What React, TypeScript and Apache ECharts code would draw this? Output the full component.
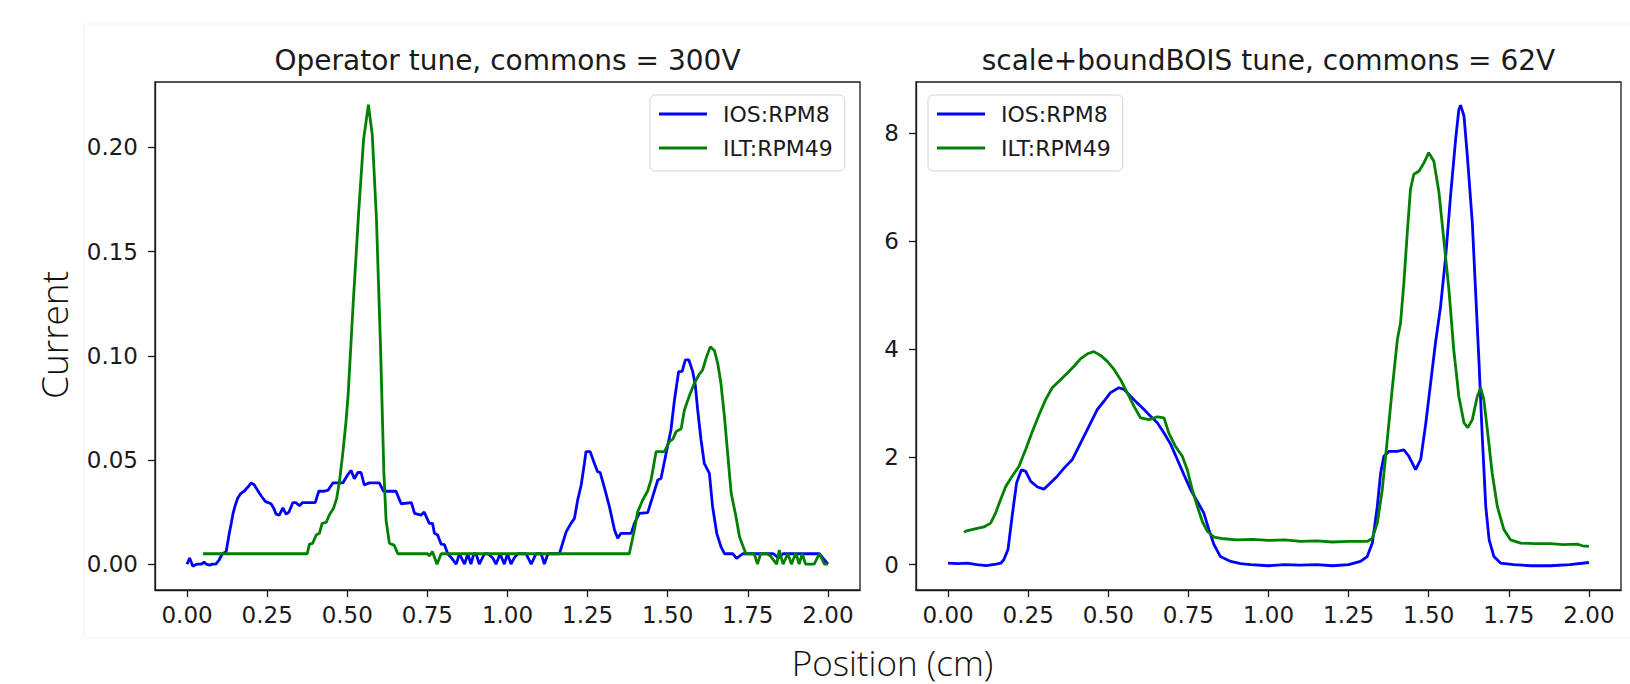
import React, { useEffect, useRef } from "react";
import * as echarts from "echarts";

// ---------- data ----------
const xTicks = [0, 0.25, 0.5, 0.75, 1.0, 1.25, 1.5, 1.75, 2.0];
const yTicksLeft = [0, 0.05, 0.1, 0.15, 0.2];
const yTicksRight = [0, 2, 4, 6, 8];
const seriesNames = ["IOS:RPM8", "ILT:RPM49"];
const titles = ["Operator tune, commons = 300V", "scale+boundBOIS tune, commons = 62V"];

// Operator tune, IOS:RPM8
const opIos: [number, number][] = [
  [0.0, 0.0], [0.008, 0.003], [0.018, -0.001], [0.03, 0.0], [0.045, 0.0], [0.053, 0.001],
  [0.06, 0.0], [0.07, -0.0005], [0.08, 0.0], [0.09, 0.0], [0.1, 0.002], [0.11, 0.005],
  [0.122, 0.006], [0.132, 0.015], [0.138, 0.0196], [0.143, 0.024], [0.15, 0.028],
  [0.158, 0.0316], [0.168, 0.034], [0.178, 0.035], [0.19, 0.037], [0.2, 0.039],
  [0.21, 0.038], [0.218, 0.036], [0.226, 0.034], [0.235, 0.032], [0.245, 0.03],
  [0.262, 0.029], [0.27, 0.027], [0.278, 0.024], [0.288, 0.0235], [0.299, 0.027],
  [0.309, 0.024], [0.318, 0.025], [0.33, 0.0295], [0.34, 0.0295], [0.351, 0.028],
  [0.36, 0.0295], [0.4, 0.0295], [0.411, 0.035], [0.428, 0.035], [0.44, 0.0355],
  [0.455, 0.039], [0.486, 0.039], [0.501, 0.0428], [0.512, 0.045], [0.522, 0.041],
  [0.533, 0.044], [0.543, 0.044], [0.553, 0.038], [0.569, 0.039], [0.6, 0.039],
  [0.613, 0.035], [0.652, 0.035], [0.668, 0.029], [0.7, 0.0295], [0.71, 0.0244],
  [0.73, 0.0235], [0.74, 0.025], [0.756, 0.0196], [0.766, 0.0196], [0.772, 0.0148],
  [0.782, 0.014], [0.793, 0.0096], [0.803, 0.0094], [0.8135, 0.005], [0.825, 0.003],
  [0.84, 0.0], [0.85, 0.005], [0.866, 0.0], [0.876, 0.005], [0.886, 0.0], [0.895, 0.005],
  [0.902, 0.005], [0.912, 0.0], [0.928, 0.005], [0.94, 0.005], [0.954, 0.003],
  [0.964, 0.0], [0.977, 0.005], [0.99, 0.0], [1.0, 0.005], [1.011, 0.0], [1.021, 0.003],
  [1.032, 0.005], [1.045, 0.005], [1.058, 0.005], [1.074, 0.0], [1.089, 0.005],
  [1.105, 0.005], [1.115, 0.0], [1.126, 0.005], [1.14, 0.005], [1.162, 0.005],
  [1.172, 0.01], [1.183, 0.0155], [1.198, 0.0196], [1.209, 0.022], [1.219, 0.0308],
  [1.23, 0.038], [1.24, 0.0484], [1.245, 0.054], [1.258, 0.054], [1.271, 0.0484],
  [1.281, 0.0444], [1.289, 0.044], [1.302, 0.037], [1.318, 0.0276], [1.334, 0.0164],
  [1.344, 0.0124], [1.354, 0.0148], [1.386, 0.0148], [1.396, 0.0196], [1.4115, 0.0244],
  [1.4375, 0.0247], [1.453, 0.0324], [1.469, 0.0404], [1.479, 0.0411], [1.495, 0.0532],
  [1.51, 0.0644], [1.521, 0.0788], [1.534, 0.0924], [1.545, 0.0925], [1.555, 0.098],
  [1.566, 0.098], [1.578, 0.0924], [1.586, 0.086], [1.5935, 0.074], [1.604, 0.0596],
  [1.614, 0.0484], [1.63, 0.0436], [1.64, 0.0276], [1.653, 0.0148], [1.666, 0.0084],
  [1.677, 0.005], [1.703, 0.005], [1.715, 0.0028], [1.734, 0.005], [1.8, 0.005],
  [1.83, 0.005], [1.845, 0.003], [1.86, 0.005], [1.973, 0.005], [2.0, 0.0],
];

// Operator tune, ILT:RPM49
const opIlt: [number, number][] = [
  [0.05, 0.005], [0.375, 0.005], [0.382, 0.0096], [0.392, 0.01], [0.403, 0.014],
  [0.413, 0.0148], [0.4215, 0.0196], [0.434, 0.02], [0.444, 0.0236], [0.457, 0.0268],
  [0.467, 0.0316], [0.4755, 0.0396], [0.486, 0.0532], [0.4964, 0.069], [0.503, 0.082],
  [0.518, 0.124], [0.536, 0.17], [0.551, 0.204], [0.566, 0.2205], [0.578, 0.206],
  [0.591, 0.166], [0.604, 0.103], [0.614, 0.045], [0.621, 0.0212], [0.6315, 0.01],
  [0.647, 0.009], [0.6576, 0.005], [0.751, 0.005], [0.756, 0.004], [0.766, 0.006],
  [0.78, 0.0], [0.793, 0.005], [1.38, 0.005], [1.396, 0.0164], [1.406, 0.025],
  [1.422, 0.0308], [1.437, 0.035], [1.448, 0.0404], [1.4636, 0.054], [1.49, 0.054],
  [1.505, 0.0588], [1.516, 0.06], [1.526, 0.0636], [1.542, 0.065], [1.552, 0.074],
  [1.568, 0.081], [1.583, 0.0868], [1.597, 0.0908], [1.609, 0.0932], [1.6196, 0.0988],
  [1.633, 0.1044], [1.646, 0.1024], [1.656, 0.0964], [1.666, 0.0868], [1.677, 0.0708],
  [1.687, 0.0532], [1.698, 0.034], [1.713, 0.0228], [1.724, 0.0132], [1.734, 0.009],
  [1.744, 0.005], [1.77, 0.005], [1.78, 0.0], [1.79, 0.005], [1.81, 0.005], [1.82, 0.004],
  [1.84, 0.0], [1.848, 0.0068], [1.86, 0.0], [1.875, 0.005], [1.886, 0.0], [1.9, 0.0055],
  [1.91, 0.0], [1.92, 0.005], [1.93, 0.0], [1.957, 0.0], [1.973, 0.005], [1.989, 0.0],
  [2.0, 0.0],
];

// scale+boundBOIS tune, IOS:RPM8
const sbIos: [number, number][] = [
  [0.0, 0.03], [0.03, 0.02], [0.06, 0.03], [0.09, 0.0], [0.12, -0.02], [0.15, 0.01],
  [0.165, 0.03], [0.174, 0.09], [0.187, 0.28], [0.2, 0.9], [0.214, 1.52], [0.229, 1.76],
  [0.2425, 1.73], [0.258, 1.545], [0.279, 1.44], [0.299, 1.4], [0.32, 1.52], [0.341, 1.64],
  [0.362, 1.79], [0.388, 1.95], [0.403, 2.13], [0.424, 2.38], [0.445, 2.63], [0.466, 2.88],
  [0.4865, 3.03], [0.507, 3.19], [0.533, 3.28], [0.549, 3.25], [0.57, 3.12], [0.59, 3.0],
  [0.611, 2.88], [0.632, 2.75], [0.653, 2.63], [0.674, 2.44], [0.695, 2.23], [0.7155, 1.95],
  [0.736, 1.67], [0.757, 1.39], [0.778, 1.17], [0.798, 0.96], [0.814, 0.65], [0.83, 0.37],
  [0.85, 0.15], [0.882, 0.06], [0.913, 0.02], [0.944, 0.0], [1.0, -0.02], [1.05, 0.0],
  [1.1, -0.01], [1.15, 0.0], [1.2, -0.02], [1.25, 0.0], [1.287, 0.06], [1.308, 0.15],
  [1.324, 0.4], [1.3395, 1.08], [1.35, 1.7], [1.36, 2.01], [1.3756, 2.1], [1.402, 2.1],
  [1.4225, 2.13], [1.438, 2.01], [1.459, 1.76], [1.475, 1.95], [1.491, 2.63], [1.506, 3.37],
  [1.521, 4.11], [1.537, 4.79], [1.553, 5.72], [1.568, 6.83], [1.584, 7.89], [1.594, 8.44],
  [1.5995, 8.52], [1.61, 8.32], [1.6205, 7.58], [1.636, 6.34], [1.646, 5.1], [1.657, 3.74],
  [1.6675, 2.32], [1.678, 1.08], [1.6885, 0.46], [1.7035, 0.15], [1.724, 0.03], [1.765, 0.0],
  [1.82, -0.02], [1.88, -0.02], [1.94, 0.0], [2.0, 0.04],
];

// scale+boundBOIS tune, ILT:RPM49
const sbIlt: [number, number][] = [
  [0.05, 0.6], [0.055, 0.62], [0.081, 0.66], [0.112, 0.7], [0.133, 0.77], [0.1485, 0.96],
  [0.164, 1.21], [0.18, 1.45], [0.2, 1.64], [0.221, 1.82], [0.242, 2.13], [0.263, 2.47],
  [0.284, 2.78], [0.3045, 3.06], [0.325, 3.28], [0.346, 3.4], [0.367, 3.52], [0.393, 3.68],
  [0.414, 3.82], [0.435, 3.91], [0.455, 3.95], [0.476, 3.88], [0.497, 3.77], [0.518, 3.62],
  [0.5385, 3.43], [0.559, 3.19], [0.58, 2.94], [0.601, 2.72], [0.627, 2.69], [0.653, 2.74],
  [0.674, 2.72], [0.689, 2.44], [0.71, 2.19], [0.731, 2.01], [0.7466, 1.76], [0.762, 1.39],
  [0.778, 1.08], [0.7935, 0.8], [0.809, 0.62], [0.83, 0.51], [0.861, 0.48], [0.9, 0.46],
  [0.95, 0.47], [1.0, 0.45], [1.05, 0.46], [1.1, 0.43], [1.15, 0.44], [1.2, 0.42],
  [1.25, 0.43], [1.308, 0.43], [1.324, 0.49], [1.3395, 0.77], [1.355, 1.39], [1.3707, 2.32],
  [1.386, 3.25], [1.402, 4.17], [1.412, 4.48], [1.4225, 5.23], [1.433, 6.15], [1.443, 6.96],
  [1.4536, 7.24], [1.47, 7.3], [1.485, 7.45], [1.5, 7.64], [1.516, 7.48], [1.532, 6.9],
  [1.547, 6.03], [1.563, 5.1], [1.578, 3.99], [1.594, 3.12], [1.61, 2.63], [1.622, 2.54],
  [1.636, 2.69], [1.6515, 3.12], [1.662, 3.28], [1.672, 3.06], [1.683, 2.5], [1.698, 1.7],
  [1.714, 1.08], [1.7345, 0.65], [1.755, 0.46], [1.787, 0.4], [1.83, 0.39], [1.88, 0.39],
  [1.92, 0.37], [1.963, 0.38], [1.98, 0.35], [2.0, 0.34],
];

const BLUE = "#0000ff";
const GREEN = "#008000";
const INK = "#1a1a1a";
const TICK_FONT = "DejaVu Sans";

function xAxisCfg(gridIndex: number) {
  return {
    type: "value",
    gridIndex,
    min: -0.1,
    max: 2.1,
    axisLine: { show: true, onZero: false, lineStyle: { color: INK, width: 1.3 } },
    axisTick: { show: true, inside: false, length: 7, customValues: xTicks, lineStyle: { color: INK, width: 1.3 } },
    axisLabel: {
      customValues: xTicks,
      formatter: (v: number) => v.toFixed(2),
      fontFamily: TICK_FONT,
      fontSize: 23,
      color: INK,
      margin: 13,
    },
    splitLine: { show: false },
  };
}

function yAxisCfg(gridIndex: number, min: number, max: number, ticks: number[], digits: number) {
  return {
    type: "value",
    gridIndex,
    min,
    max,
    axisLine: { show: true, onZero: false, lineStyle: { color: INK, width: 1.3 } },
    axisTick: { show: true, inside: false, length: 7, customValues: ticks, lineStyle: { color: INK, width: 1.3 } },
    axisLabel: {
      customValues: ticks,
      formatter: (v: number) => v.toFixed(digits),
      fontFamily: TICK_FONT,
      fontSize: 23,
      color: INK,
      margin: 17,
    },
    splitLine: { show: false },
  };
}

function legendCfg(left: number) {
  return {
    left,
    top: 95,
    orient: "vertical",
    data: seriesNames,
    selectedMode: false,
    icon: "rect",
    itemWidth: 48,
    itemHeight: 3,
    itemGap: 12,
    padding: [8, 12, 12, 9],
    backgroundColor: "rgba(255,255,255,0.8)",
    borderColor: "#d4d4d4",
    borderWidth: 1,
    borderRadius: 5,
    textStyle: { fontFamily: TICK_FONT, fontSize: 22, color: INK, lineHeight: 22, padding: [0, 0, 0, 11] },
  };
}

function lineSeries(name: string, data: [number, number][], color: string, idx: number) {
  return {
    type: "line",
    name,
    xAxisIndex: idx,
    yAxisIndex: idx,
    data,
    symbol: "none",
    lineStyle: { color, width: 2.8 },
    itemStyle: { color },
    emphasis: { disabled: true },
  };
}

export default function App() {
  const ref = useRef<HTMLDivElement>(null);
  useEffect(() => {
    if (!ref.current) return;
    const chart = echarts.init(ref.current, undefined, { renderer: "svg" });
    const option = {
      animation: false,
      backgroundColor: "#ffffff",
      grid: [
        { left: 155, top: 82, width: 705, height: 508, show: true, borderColor: INK, borderWidth: 1.3 },
        { left: 916, top: 82, width: 705, height: 508, show: true, borderColor: INK, borderWidth: 1.3 },
      ],
      xAxis: [xAxisCfg(0), xAxisCfg(1)],
      yAxis: [
        yAxisCfg(0, -0.0124, 0.2314, yTicksLeft, 2),
        yAxisCfg(1, -0.47, 8.95, yTicksRight, 0),
      ],
      legend: [legendCfg(650), legendCfg(928)],
      series: [
        lineSeries(seriesNames[0], opIos, BLUE, 0),
        lineSeries(seriesNames[1], opIlt, GREEN, 0),
        lineSeries(seriesNames[0], sbIos, BLUE, 1),
        lineSeries(seriesNames[1], sbIlt, GREEN, 1),
      ],
      graphic: [
        {
          type: "rect",
          shape: { x: 84, y: 24, width: 1560, height: 614 },
          style: { fill: "none", stroke: "#f3f3f3", lineWidth: 1 },
          silent: true,
          z: -10,
        },
        {
          type: "text",
          x: 507.5,
          y: 60.5,
          style: { text: titles[0], fontFamily: TICK_FONT, fontSize: 28, fill: INK, textAlign: "center", textVerticalAlign: "middle" },
        },
        {
          type: "text",
          x: 1268.5,
          y: 60.5,
          style: { text: titles[1], fontFamily: TICK_FONT, fontSize: 28, fill: INK, textAlign: "center", textVerticalAlign: "middle" },
        },
        {
          type: "text",
          x: 53,
          y: 335,
          rotation: Math.PI / 2,
          style: { text: "Current", fontFamily: "Open Sans", fontWeight: 300, fontSize: 37, fill: "#111", textAlign: "center", textVerticalAlign: "middle" },
        },
        {
          type: "text",
          x: 892.5,
          y: 662,
          style: { text: "Position (cm)", fontFamily: "Open Sans", fontWeight: 300, fontSize: 35, fill: "#111", textAlign: "center", textVerticalAlign: "middle" },
        },
      ],
    };
    chart.setOption(option as any);
    return () => chart.dispose();
  }, []);
  return <div ref={ref} style={{ position: "fixed", left: 0, top: 0, width: 1630, height: 684 }} />;
}
